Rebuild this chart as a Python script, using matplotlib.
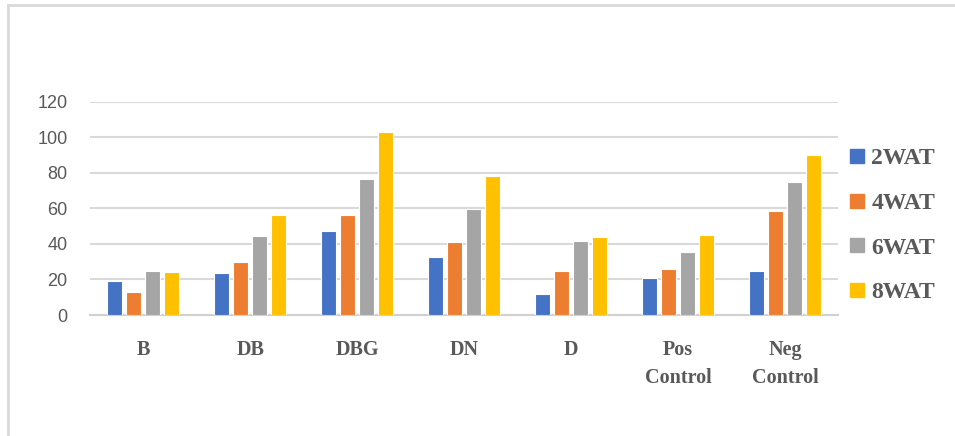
import matplotlib
matplotlib.use("Agg")
from matplotlib import pyplot as plt
from matplotlib.lines import Line2D
import numpy as np

categories = ["B", "DB", "DBG", "DN", "D", "Pos\nControl", "Neg\nControl"]
series = ["2WAT", "4WAT", "6WAT", "8WAT"]
wat2 = [19.1, 23.4, 47.1, 32.4, 12.0, 21.0, 24.9]
wat4 = [12.9, 29.6, 56.3, 40.9, 24.9, 25.7, 58.5]
wat6 = [24.9, 44.3, 76.3, 59.4, 41.8, 35.6, 74.6]
wat8 = [24.2, 56.4, 102.9, 78.4, 44.1, 44.8, 89.8]
colors = ["#4472c4", "#ed7d31", "#a5a5a5", "#ffc000"]

fig = plt.figure(figsize=(9.55, 4.36), dpi=100)
ax = fig.add_axes([0.094, 0.2775, 0.784, 0.4892])

x = np.arange(len(categories))
w = 0.14
step = 0.178
for i, (vals, c) in enumerate(zip([wat2, wat4, wat6, wat8], colors)):
    ax.bar(x + (i - 1.5) * step, vals, width=w, color=c, edgecolor="white",
           linewidth=0.8, label=series[i], zorder=3)

ax.set_xlim(-0.5, len(categories) - 0.5)
ax.set_ylim(0, 120)
ax.set_yticks(range(0, 121, 20))
ax.yaxis.grid(True, color="#d9d9d9", linewidth=1.5, zorder=0)
for s in ["top", "right", "left"]:
    ax.spines[s].set_visible(False)
ax.spines["bottom"].set_color("#d0d0d0")
ax.spines["bottom"].set_linewidth(1.5)
ax.tick_params(length=0)
ax.tick_params(axis="y", pad=16, labelsize=13, labelcolor="#595959")
ax.tick_params(axis="x", pad=18)

ax.set_xticks(x)
ax.set_xticklabels(categories, fontfamily="Liberation Serif", fontweight="bold",
                   fontsize=14.5, color="#595959", linespacing=1.55)
for lab in ax.get_yticklabels():
    lab.set_fontfamily("Liberation Sans")

handles = [Line2D([], [], marker="s", linestyle="", markersize=9.5,
                  markerfacecolor=c, markeredgecolor=c) for c in colors]
leg = fig.legend(handles, series, loc="upper left", bbox_to_anchor=(0.863, 0.71),
                 frameon=False, handletextpad=0.1, labelspacing=0.98,
                 handlelength=1.0,
                 prop={"family": "Liberation Serif", "weight": "bold", "size": 17})
for t in leg.get_texts():
    t.set_color("#595959")

# outer chart border (top and left edges only)
fig.add_artist(Line2D([7.5 / 955, 1], [1 - 5 / 436, 1 - 5 / 436],
                      color="#d9d9d9", linewidth=2, transform=fig.transFigure))
fig.add_artist(Line2D([7.5 / 955, 7.5 / 955], [0, 1 - 5 / 436],
                      color="#d9d9d9", linewidth=2, transform=fig.transFigure))

fig.savefig("out.png", dpi=100)
